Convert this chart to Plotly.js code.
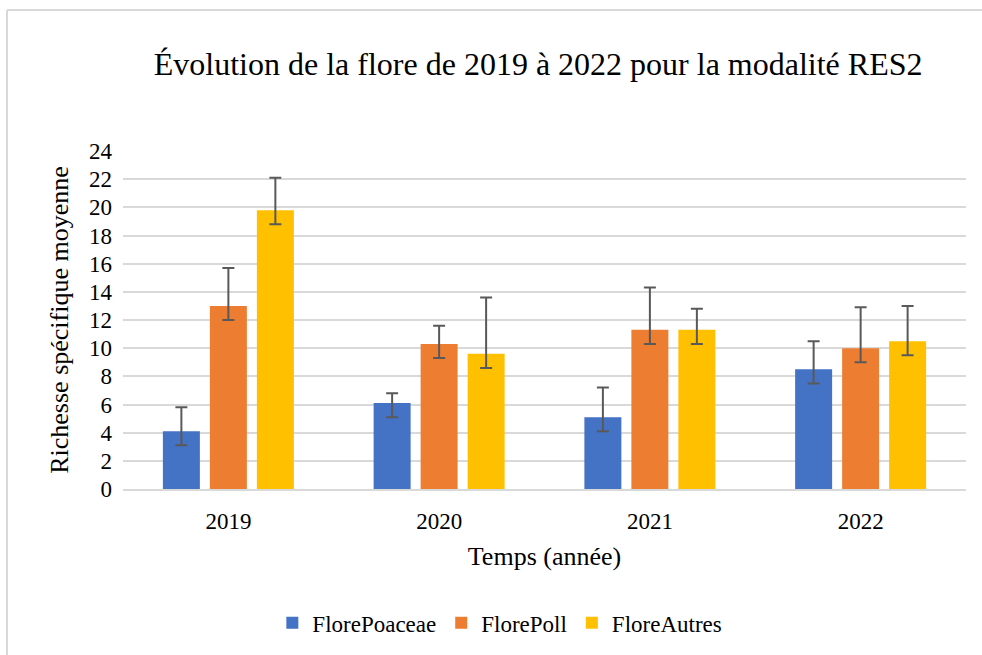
<!DOCTYPE html>
<html>
<head>
<meta charset="utf-8">
<script src="https://cdn.plot.ly/plotly-3.0.1.min.js"></script>
<style>html,body{margin:0;padding:0;background:#fff;}#chart{width:982px;height:655px;}</style>
</head>
<body>
<div id="chart"></div>
<script>
const years = ['2019', '2020', '2021', '2022'];
const seriesNames = ['FlorePoaceae', 'FlorePoll', 'FloreAutres'];
const florePoaceae = [4.1, 6.1, 5.1, 8.5];
const florePoll = [13.0, 10.3, 11.3, 10.0];
const floreAutres = [19.8, 9.6, 11.3, 10.5];
const errPlusPoaceae = [1.7, 0.7, 2.1, 2.0];
const errPlusPoll = [2.7, 1.3, 3.0, 2.9];
const errPlusAutres = [2.3, 4.0, 1.5, 2.5];
const errMinusPoaceae = [1.0, 1.0, 1.0, 1.0];
const errMinusPoll = [1.0, 1.0, 1.0, 1.0];
const errMinusAutres = [1.0, 1.0, 1.0, 1.0];
const yTicks = [0, 2, 4, 6, 8, 10, 12, 14, 16, 18, 20, 22, 24];

const colors = ['#4472C4', '#ED7D31', '#FFC000'];
const values = [florePoaceae, florePoll, floreAutres];
const plus = [errPlusPoaceae, errPlusPoll, errPlusAutres];
const minus = [errMinusPoaceae, errMinusPoll, errMinusAutres];

const font = '"Liberation Serif", "Times New Roman", serif';

const data = seriesNames.map((n, i) => ({
  type: 'bar',
  name: n,
  x: years,
  y: values[i],
  marker: {color: colors[i], line: {width: 0}},
  error_y: {
    type: 'data', symmetric: false,
    array: plus[i], arrayminus: minus[i],
    color: '#595959', thickness: 2, width: 6
  },
  hoverinfo: 'none'
}));

const layout = {
  width: 982, height: 655,
  paper_bgcolor: '#ffffff', plot_bgcolor: '#ffffff',
  margin: {l: 123, r: 16, t: 151, b: 166, pad: 0},
  font: {family: font, color: '#000000', size: 22},
  title: {
    text: 'Évolution de la flore de 2019 à 2022 pour la modalité RES2',
    font: {family: font, size: 32, color: '#000000'},
    x: 0.548, xanchor: 'center', xref: 'container',
    y: 0.902, yanchor: 'middle', yref: 'container'
  },
  barmode: 'group',
  bargap: 0.331,
  bargroupgap: 0.213,
  xaxis: {
    type: 'category',
    title: {text: 'Temps (année)', font: {family: font, size: 26, color: '#000'}, standoff: 14},
    tickfont: {family: font, size: 23, color: '#000'},
    showline: true, linecolor: '#d9d9d9', linewidth: 2,
    ticks: '', showgrid: false, zeroline: false,
    ticklabelstandoff: 10
  },
  yaxis: {
    range: [0, 24],
    tickvals: yTicks,
    ticktext: yTicks.map(String),
    title: {text: 'Richesse spécifique moyenne', font: {family: font, size: 26, color: '#000'}, standoff: 12},
    tickfont: {family: font, size: 23, color: '#000'},
    showgrid: true, gridcolor: '#d9d9d9', gridwidth: 2,
    zeroline: false, showline: false, ticks: '',
    ticklabelstandoff: 10
  },
  legend: {
    orientation: 'h',
    x: 0.509, xanchor: 'center', xref: 'container',
    y: 0.049, yanchor: 'middle', yref: 'container',
    font: {family: font, size: 23, color: '#000'},
    traceorder: 'normal',
    itemwidth: 30
  },
  showlegend: true,
  shapes: [
    {type: 'line', xref: 'paper', yref: 'paper', x0: -0.1376, x1: -0.1376, y0: -0.6, y1: 1.417,
     line: {color: '#d9d9d9', width: 2}},
    {type: 'line', xref: 'paper', yref: 'paper', x0: -0.1376, x1: 1.05, y0: 1.417, y1: 1.417,
     line: {color: '#d9d9d9', width: 2}}
  ]
};

Plotly.newPlot('chart', data, layout, {displayModeBar: false, staticPlot: true});
</script>
</body>
</html>
